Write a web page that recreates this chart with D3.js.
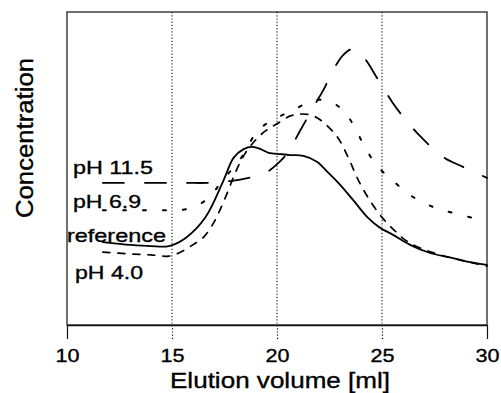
<html>
<head>
<style>
  body { margin: 0; background: #fff; }
  svg text { font-family: "Liberation Sans", Arial, sans-serif; fill: #000; stroke: #000; stroke-width: 0.35px; }
</style>
<script src="https://cdnjs.cloudflare.com/ajax/libs/d3/7.8.5/d3.min.js"></script>
</head>
<body>
<svg id="chart"></svg>
<script>
// elution volume [ml] / concentration (arbitrary units, 0..100 = frame height)
var refVol  = [11.71, 13.04, 13.99, 14.85, 15.65, 16.60, 17.46, 17.93, 18.41, 18.84, 19.22, 19.60, 20.17, 20.64, 21.26, 21.92, 22.40, 22.92, 23.63, 24.30, 24.92, 25.53, 26.34, 27.29, 28.38, 29.19, 30.00];
var refConc = [26.5, 25.6, 25.2, 25.2, 27.8, 34.5, 46.3, 53.4, 56.2, 56.9, 56.2, 55.0, 54.6, 54.3, 54.0, 52.1, 48.9, 45.4, 39.9, 34.5, 31.0, 28.8, 25.6, 23.0, 21.4, 20.1, 19.2];

var ph115Vol  = [11.71, 13.75, 15.65, 16.70, 17.79, 18.65, 19.45, 20.07, 20.50, 21.12, 21.73, 22.21, 22.68, 23.16, 23.59, 23.97, 24.30, 24.82, 25.49, 26.20, 26.91, 27.91, 28.86, 30.00];
var ph115Conc = [45.4, 45.4, 45.4, 45.4, 46.0, 47.0, 48.6, 51.8, 55.0, 62.3, 69.6, 75.1, 81.5, 86.3, 88.2, 86.9, 84.0, 78.3, 71.2, 64.9, 59.7, 53.7, 50.5, 47.0];

var ph69Vol  = [11.71, 12.80, 13.85, 14.80, 15.75, 16.70, 17.41, 18.22, 19.12, 19.98, 20.78, 21.83, 22.68, 23.25, 23.59, 24.06, 24.73, 25.49, 26.34, 27.43, 28.38, 29.33, 30.00];
var ph69Conc = [36.7, 36.7, 36.7, 36.7, 37.1, 40.3, 46.3, 52.7, 62.3, 66.1, 68.7, 71.9, 70.9, 67.7, 64.5, 58.5, 51.1, 46.3, 41.5, 37.7, 35.8, 34.2, 33.2];

var ph40Vol  = [11.71, 13.04, 13.99, 14.85, 15.42, 15.89, 16.51, 16.89, 17.22, 17.65, 18.03, 18.50, 18.98, 19.45, 19.98, 20.64, 21.12, 21.59, 22.07, 22.87, 23.40, 23.87, 24.44, 25.06, 25.63, 26.10, 26.82, 27.77, 28.95, 30.00];
var ph40Conc = [23.3, 22.7, 22.4, 22.0, 23.3, 25.2, 28.1, 31.6, 35.8, 42.5, 48.9, 55.0, 59.1, 62.0, 64.2, 66.8, 67.4, 67.1, 65.5, 60.1, 53.4, 46.3, 39.6, 33.9, 30.0, 27.2, 24.6, 22.4, 20.4, 18.8];

var xTicks = [10, 15, 20, 25, 30];
var gridTicks = [15, 20, 25];

var W = 501, H = 393;
var svg = d3.select("#chart").attr("width", W).attr("height", H);

var x = d3.scaleLinear().domain([10, 30]).range([67, 487]);
var y = d3.scaleLinear().domain([0, 100]).range([325, 12]);

// frame
svg.append("rect")
    .attr("x", x(10)).attr("y", y(100))
    .attr("width", x(30) - x(10)).attr("height", y(0) - y(100))
    .attr("fill", "none").attr("stroke", "#111").attr("stroke-width", 1.2);

// dotted verticals
svg.selectAll("line.grid").data(gridTicks).enter().append("line")
    .attr("class", "grid")
    .attr("x1", d => x(d)).attr("x2", d => x(d))
    .attr("y1", y(100)).attr("y2", y(0))
    .attr("stroke", "#111").attr("stroke-width", 1.1)
    .attr("stroke-dasharray", "1.2,2");

// x axis
var xAxis = d3.axisBottom(x).tickValues(xTicks).tickSize(14).tickSizeOuter(0).tickPadding(10);
var gx = svg.append("g").attr("transform", "translate(0," + y(0) + ")").call(xAxis);
gx.select(".domain").attr("stroke", "#111").attr("stroke-width", 1.4);
gx.selectAll(".tick line")
    .attr("stroke", "#111").attr("stroke-width", 1.2)
    .attr("stroke-dasharray", d => gridTicks.indexOf(d) >= 0 ? "1.2,2" : null);
gx.selectAll(".tick text")
    .attr("font-size", 19).attr("font-family", "Liberation Sans, Arial, sans-serif")
    .attr("fill", "#000")
    .attr("dy", "0.71em").attr("y", 24)
    .attr("textLength", 24).attr("lengthAdjust", "spacingAndGlyphs");

// axis titles
svg.append("text")
    .attr("x", 280).attr("y", 388)
    .attr("text-anchor", "middle")
    .attr("font-size", 22)
    .attr("textLength", 220).attr("lengthAdjust", "spacingAndGlyphs")
    .text("Elution volume [ml]");

svg.append("text")
    .attr("transform", "translate(33,138) rotate(-90)")
    .attr("text-anchor", "middle")
    .attr("font-size", 23)
    .attr("textLength", 160).attr("lengthAdjust", "spacingAndGlyphs")
    .text("Concentration");

// curves
var line = d3.line()
    .x(d => x(d[0]))
    .y(d => y(d[1]))
    .curve(d3.curveCatmullRom.alpha(0.5));

var series = [
  { vol: ph115Vol, conc: ph115Conc, dash: "21,21", w: 1.8 },
  { vol: ph69Vol,  conc: ph69Conc,  dash: "3,17",  w: 2 },
  { vol: ph40Vol,  conc: ph40Conc,  dash: "7,8",   w: 1.7 },
  { vol: refVol,   conc: refConc,   dash: null,    w: 1.8 }
];

series.forEach(function (s) {
  var pts = d3.zip(s.vol, s.conc);
  svg.append("path")
      .datum(pts)
      .attr("d", line)
      .attr("fill", "none")
      .attr("stroke", "#000")
      .attr("stroke-width", s.w)
      .attr("stroke-linecap", "round")
      .attr("stroke-dasharray", s.dash);
});

// curve labels
var labels = [
  { t: "pH 11.5",   x: 73, y: 174, len: 80 },
  { t: "pH 6.9",    x: 73, y: 208, len: 68 },
  { t: "reference", x: 67, y: 242, len: 99 },
  { t: "pH 4.0",    x: 75, y: 279, len: 68 }
];
svg.selectAll("text.lbl").data(labels).enter().append("text")
    .attr("class", "lbl")
    .attr("x", d => d.x).attr("y", d => d.y)
    .attr("font-size", 19)
    .attr("textLength", d => d.len).attr("lengthAdjust", "spacingAndGlyphs")
    .text(d => d.t);
</script>
</body>
</html>
